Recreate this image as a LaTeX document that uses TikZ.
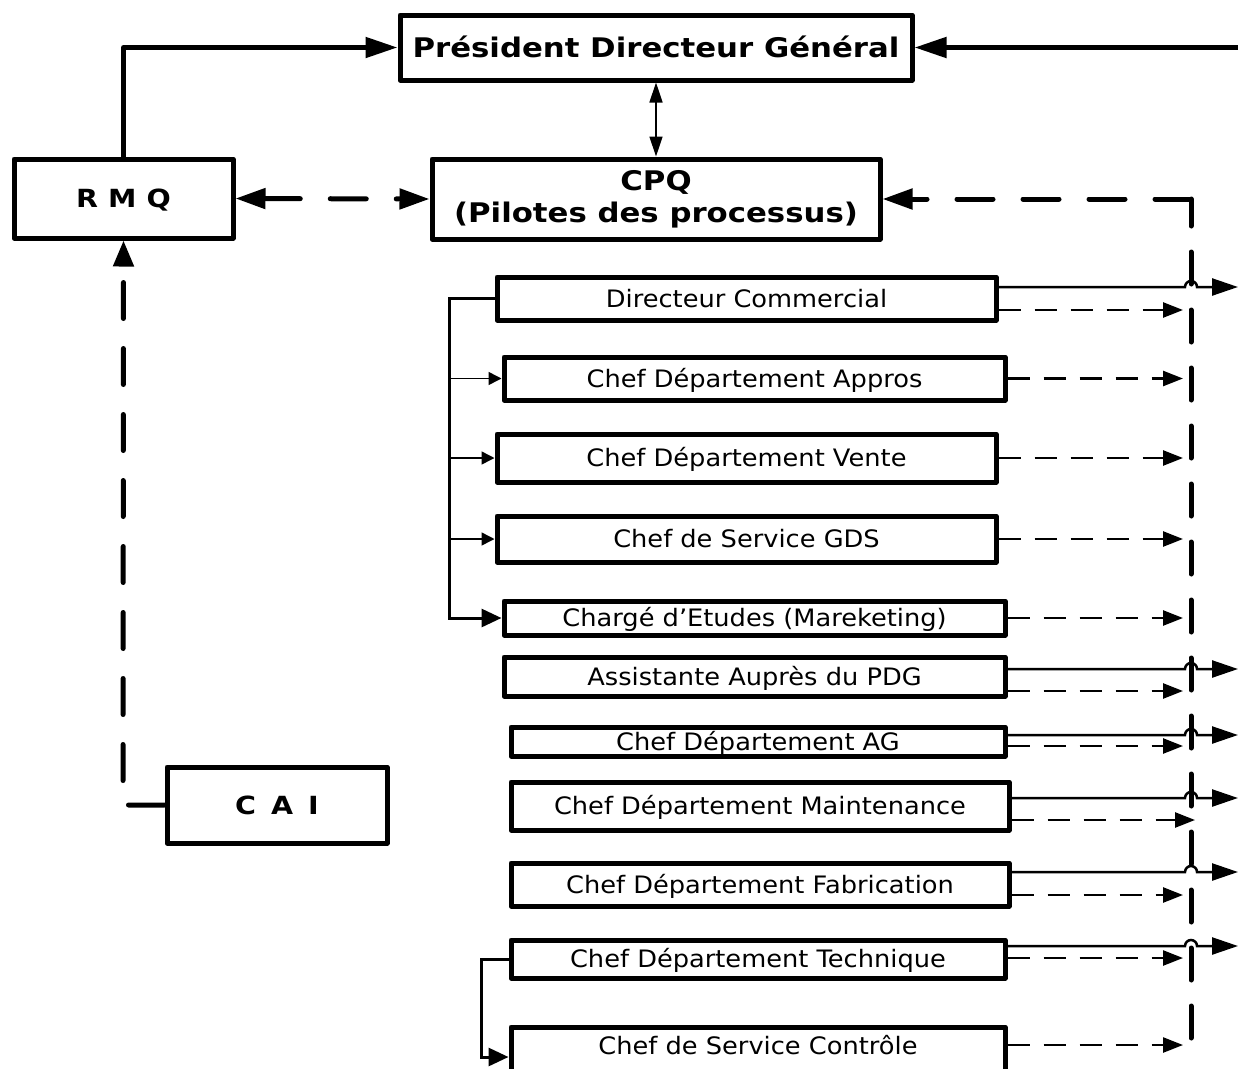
\documentclass[tikz,border=0pt]{standalone}
\usepackage{fontspec}
\setmainfont[FakeStretch=1.07]{DejaVu Sans}
\newfontfamily\headfont[FakeStretch=1.14]{DejaVu Sans}
\usetikzlibrary{arrows.meta,calc}

\begin{document}
\begin{tikzpicture}[x=1pt,y=-1pt,
  frame/.style={draw, line width=5pt, line join=round, inner sep=0pt},
  unitbox/.style={frame, font=\fontsize{24}{28}\selectfont, text height=17.5pt, text depth=0pt},
  headbox/.style={frame, font=\fontsize{27}{32}\selectfont\headfont\bfseries},
  smallhead/.style={frame, font=\fontsize{25}{28}\selectfont\headfont\bfseries, text height=18.2pt, text depth=0pt},
  bigtip/.style={-{Triangle[length=32pt,width=20pt]}},
  thick line/.style={line width=5pt, line join=round},
  longdash/.style={line width=5pt, line cap=round, dash pattern=on 36pt off 30pt},
  busline/.style={line width=5pt, line cap=round, dash pattern=on 32pt off 26pt},
  flow/.style={line width=2.5pt, -{Triangle[length=26pt,width=17pt]}},
  dflow/.style={line width=2.5pt, dash pattern=on 22pt off 14pt, -{Triangle[length=20pt,width=15pt]}},
  branch/.style={line width=1.5pt, -{Triangle[length=13pt,width=13pt]}},
  mainbranch/.style={line width=3pt, -{Triangle[length=20pt,width=18pt]}},
]
\useasboundingbox (0,0) rectangle (1238,1068);

% reference columns
\coordinate (edge) at (1238,0);
\coordinate (bus) at (1191,0);
\coordinate (busin) at (1183,0);
\coordinate (hop) at (1185,0);
\coordinate (brk) at (449,0);
\coordinate (brk2) at (481,0);
\coordinate (busend) at (1191,1038);
\coordinate (caicorner) at (123,805);

% management boxes
\node[headbox, minimum width=512, minimum height=65, text height=19.7pt, text depth=0pt] (pdg) at (656,47.5) {Président Directeur Général};
\node[headbox, minimum width=448, minimum height=80, align=center] (cpq) at (656,199) {CPQ\\(Pilotes des processus)};
\node[smallhead, minimum width=219, minimum height=79] (rmq) at (123.5,198.5) {R\hspace{10pt}M\hspace{10pt}Q};
\node[smallhead, minimum width=220, minimum height=76] (cai) at (277,805) {C\hspace{15pt}A\hspace{15pt}I};

% units
\node[unitbox, minimum width=499, minimum height=43] (dc) at (746.5,298.5) {Directeur Commercial};
\node[unitbox, minimum width=501, minimum height=43] (appro) at (754.5,378.5) {Chef Département Appros};
\node[unitbox, minimum width=499, minimum height=48] (vente) at (746.5,458) {Chef Département Vente};
\node[unitbox, minimum width=499, minimum height=46] (gds) at (746.5,539) {Chef de Service GDS};
\node[unitbox, minimum width=501, minimum height=34] (etudes) at (754.5,618) {Chargé d’Etudes (Mareketing)};
\node[unitbox, minimum width=501, minimum height=39] (assist) at (754.5,676.5) {Assistante Auprès du PDG};
\node[unitbox, minimum width=494, minimum height=29] (ag) at (758,741.5) {Chef Département AG};
\node[unitbox, minimum width=498, minimum height=48] (maint) at (760,806) {Chef Département Maintenance};
\node[unitbox, minimum width=498, minimum height=43] (fab) at (760,884.5) {Chef Département Fabrication};
\node[unitbox, minimum width=494, minimum height=38] (tech) at (758,959) {Chef Département Technique};
\node[unitbox, minimum width=494, minimum height=60, text depth=22pt] (ctrl) at (758,1057) {Chef de Service Contrôle};

% top links
\draw[thick line, bigtip] (rmq.north) |- (pdg.west);
\draw[thick line, bigtip] (edge |- pdg.east) -- (pdg.east);
\draw[line width=1.5pt, {Triangle[length=20pt,width=13pt]}-{Triangle[length=20pt,width=13pt]}] (pdg.south) -- (cpq.north);
\draw[longdash, {Triangle[length=30pt,width=20pt]}-{Triangle[length=30pt,width=20pt]}] (rmq.east) -- (cpq.west);
\draw[longdash, -{Triangle[length=26pt,width=20pt]}] (cai.west) -- (caicorner) -- (rmq.south);

% process bus back to CPQ
\draw[busline] (busend) -- (bus |- cpq.east);
\draw[longdash, -{Triangle[length=30pt,width=20pt]}] (bus |- cpq.east) -- (cpq.east);

% commercial branch
\draw[mainbranch] (dc.west) -- (brk |- dc.west) |- (etudes.west);
\foreach \n in {appro,vente,gds}
  \draw[branch] (brk |- \n.west) -- (\n.west);

% technical branch
\draw[mainbranch] (tech.west) -- (brk2 |- tech.west) |- (ctrl.west);

% solid links to the right, hopping over the bus
\foreach \n/\s in {dc/11.5, assist/7.5, ag/6.5, maint/8, fab/12.5, tech/13}
  \draw[flow] ([yshift=\s pt]\n.east) -- ([yshift=\s pt]\n.east -| hop)
    arc[start angle=180,end angle=0,radius=6pt] -- ([yshift=\s pt]\n.east -| edge);

% dashed links to the bus
\foreach \n/\d in {dc/-11.5, appro/0, vente/0, gds/0, etudes/0, assist/-14.5, ag/-4.5, fab/-10.5, tech/1, ctrl/12}
  \draw[dflow] ([yshift=\d pt]\n.east) -- ([yshift=\d pt]\n.east -| busin);
\draw[dflow] ([yshift=-14pt]maint.east) -- ([yshift=-14pt,xshift=12pt]maint.east -| busin);

\end{tikzpicture}
\end{document}
